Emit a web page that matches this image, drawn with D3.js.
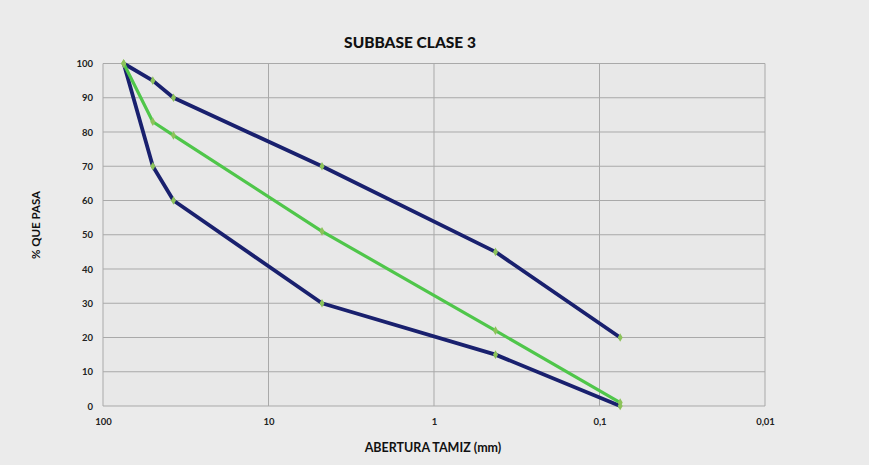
<!DOCTYPE html>
<html>
<head>
<meta charset="utf-8">
<script src="https://cdn.jsdelivr.net/npm/d3@7"></script>
<style>
  html, body { margin: 0; padding: 0; background: #ebebeb; }
  svg { display: block; }
</style>
</head>
<body>
<svg id="chart" width="869" height="465"></svg>
<script>
// Sieve openings (mm) and percent passing
const sieves = [75, 50, 37.5, 4.75, 0.425, 0.075];
const upperLimit = [100, 95, 90, 70, 45, 20];
const lowerLimit = [100, 70, 60, 30, 15, 0];
const gradation = [100, 83, 79, 51, 22, 1];
const xTicks = [100, 10, 1, 0.1, 0.01];
const xTickLabels = ["100", "10", "1", "0,1", "0,01"];
const yTicks = [0, 10, 20, 30, 40, 50, 60, 70, 80, 90, 100];

const svg = d3.select("#chart");
const W = 869, H = 465;
const plot = { left: 103, right: 765, top: 63.5, bottom: 406 };

const x = d3.scaleLog().domain([100, 0.01]).range([plot.left, plot.right]);
const y = d3.scaleLinear().domain([0, 100]).range([plot.bottom, plot.top]);

// background and plot area
svg.append("rect").attr("width", W).attr("height", H).attr("fill", "#ebebeb");
svg.append("rect").attr("x", plot.left).attr("y", plot.top)
  .attr("width", plot.right - plot.left).attr("height", plot.bottom - plot.top)
  .attr("fill", "#e8e8e8");

// grid
const grid = svg.append("g");
grid.selectAll("line.h").data(yTicks).join("line")
  .attr("x1", plot.left).attr("x2", plot.right)
  .attr("y1", d => y(d)).attr("y2", d => y(d))
  .attr("stroke", "#a9a9a9").attr("stroke-width", 1);
grid.selectAll("line.v").data(xTicks).join("line")
  .attr("y1", plot.top).attr("y2", plot.bottom)
  .attr("x1", d => x(d)).attr("x2", d => x(d))
  .attr("stroke", "#a9a9a9").attr("stroke-width", 1);

// axes
const font = "Lato, 'Open Sans', sans-serif";
const yAxis = d3.axisLeft(y).tickValues(yTicks).tickSize(0).tickPadding(10);
const gy = svg.append("g").attr("transform", `translate(${plot.left},0)`).call(yAxis);
gy.select(".domain").remove();
gy.selectAll("text").attr("font-family", font)
  .attr("font-size", 9.5).attr("font-weight", "bold").attr("fill", "#222");

const xAxis = d3.axisBottom(x).tickValues(xTicks).tickSize(0).tickPadding(12)
  .tickFormat((d, i) => xTickLabels[i]);
const gx = svg.append("g").attr("transform", `translate(0,${plot.bottom})`).call(xAxis);
gx.select(".domain").remove();
gx.selectAll("text").attr("font-family", font)
  .attr("font-size", 9.5).attr("font-weight", "bold").attr("fill", "#222");

// titles
svg.append("text").attr("x", 410).attr("y", 48).attr("text-anchor", "middle")
  .attr("font-family", font).attr("font-size", 15.5)
  .attr("font-weight", "900").attr("fill", "#111").text("SUBBASE CLASE 3");
svg.append("text").attr("x", 433).attr("y", 452).attr("text-anchor", "middle")
  .attr("font-family", font).attr("font-size", 12.5)
  .attr("font-weight", "bold").attr("fill", "#111").text("ABERTURA TAMIZ (mm)");
svg.append("text").attr("transform", "translate(40,225) rotate(-90)")
  .attr("text-anchor", "middle")
  .attr("font-family", font).attr("font-size", 11.5)
  .attr("font-weight", "bold").attr("fill", "#111").text("% QUE PASA");

// series
const line = d3.line().x(d => x(d[0])).y(d => y(d[1]));
const series = [
  { values: upperLimit, color: "#19206e", width: 3.8 },
  { values: lowerLimit, color: "#19206e", width: 3.8 },
  { values: gradation, color: "#4fc64a", width: 3.2 }
];
series.forEach(s => {
  svg.append("path").datum(sieves.map((d, i) => [d, s.values[i]]))
    .attr("d", line).attr("fill", "none")
    .attr("stroke", s.color).attr("stroke-width", s.width)
    .attr("stroke-linejoin", "round");
});
series.forEach(s => {
  svg.append("g").selectAll("path").data(sieves.map((d, i) => [d, s.values[i]])).join("path")
    .attr("d", d3.symbol(d3.symbolDiamond, 22))
    .attr("transform", d => `translate(${x(d[0])},${y(d[1])})`)
    .attr("fill", "#8cc35a");
});
</script>
</body>
</html>
